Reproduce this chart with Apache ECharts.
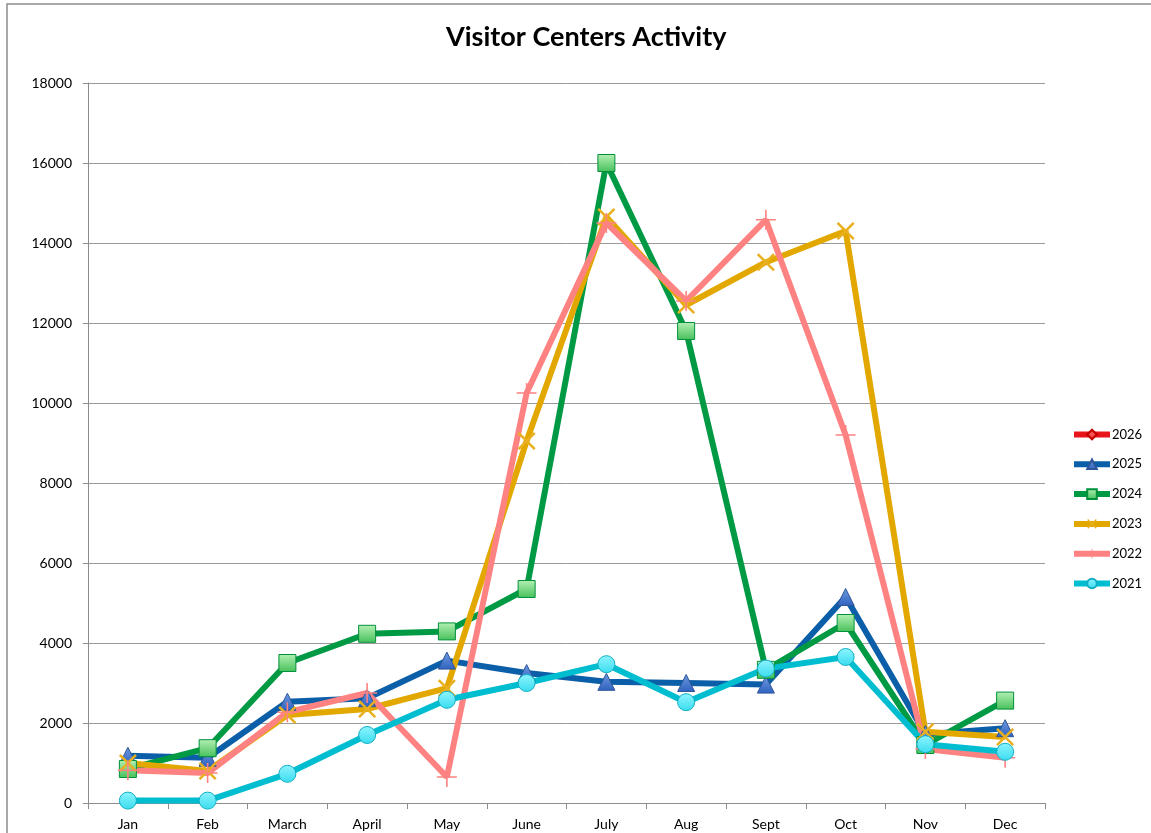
<!DOCTYPE html>
<html>
<head>
<meta charset="utf-8">
<title>Visitor Centers Activity</title>
<script src="https://cdn.jsdelivr.net/npm/echarts@6/dist/echarts.min.js"></script>
<style>
  html, body { margin: 0; padding: 0; background: #fff; }
  #main { width: 1151px; height: 833px; }
</style>
</head>
<body>
<div id="main"></div>
<script>
// months along the x axis
const months = ['Jan', 'Feb', 'March', 'April', 'May', 'June', 'July', 'Aug', 'Sept', 'Oct', 'Nov', 'Dec']

// visitors per month
const y2026 = []
const y2025 = [1180, 1130, 2530, 2620, 3560, 3250, 3030, 3000, 2960, 5150, 1720, 1870]
const y2024 = [850, 1370, 3500, 4230, 4290, 5350, 16000, 11800, 3330, 4500, 1450, 2560]
const y2023 = [1000, 800, 2200, 2350, 2870, 9050, 14650, 12450, 13520, 14300, 1780, 1650]
const y2022 = [820, 750, 2270, 2750, 650, 10250, 14500, 12550, 14580, 9200, 1350, 1130]
const y2021 = [60, 60, 730, 1700, 2580, 3000, 3470, 2520, 3360, 3650, 1470, 1280]

const yTicks = { min: 0, max: 18000, interval: 2000 }

const FONT = 'Lato, "Open Sans", sans-serif'

const crossPath = 'path://M0,1L1,0L10,9L9,10Z M9,0L10,1L1,10L0,9Z'
const plusPath = 'path://M0,4.6H10V5.4H0Z M4.6,0H5.4V10H4.6Z'

function grad(top, bottom) {
    return new echarts.graphic.LinearGradient(0, 0, 0, 1, [
        { offset: 0, color: top },
        { offset: 1, color: bottom }
    ])
}

function makeSeries(name, data, color, symbol, size, markerStyle) {
    return {
        name: name,
        type: 'line',
        data: data,
        symbol: symbol,
        symbolSize: size,
        showAllSymbol: true,
        lineStyle: { color: color, width: 6 },
        itemStyle: Object.assign({ color: color }, markerStyle),
        emphasis: { disabled: true }
    }
}

const myChart = echarts.init(document.getElementById('main'))
myChart.setOption({
    animation: false,
    color: ['#e8141c', '#0b5ea8', '#009a44', '#e2a800', '#ff8282', '#00bdd0'],
    title: {
        text: 'Visitor Centers Activity',
        left: 441,
        top: 19,
        textStyle: { fontFamily: FONT, fontSize: 27, fontWeight: 'bold', color: '#000' }
    },
    graphic: [{
        type: 'rect',
        shape: { x: 7, y: 4, width: 1200, height: 900 },
        style: { fill: 'none', stroke: '#8c8c8c', lineWidth: 1.5 },
        silent: true
    }],
    legend: {
        orient: 'vertical',
        left: 1066,
        top: 423,
        itemWidth: 36,
        itemHeight: 12,
        itemGap: 16.8,
        lineStyle: { width: 6 },
        textStyle: { fontFamily: FONT, fontSize: 13, color: '#000', padding: [0, 0, 0, -3] },
        data: ['2026', '2025', '2024', '2023', '2022', '2021']
    },
    grid: { left: 88, right: 106, top: 83, bottom: 30, containLabel: false },
    xAxis: {
        type: 'category',
        data: months,
        boundaryGap: true,
        axisLine: { lineStyle: { color: '#8c8c8c', width: 1 } },
        axisTick: { show: true, length: 6, lineStyle: { color: '#8c8c8c' } },
        axisLabel: { fontFamily: FONT, fontSize: 14, color: '#000', margin: 14 }
    },
    yAxis: {
        type: 'value',
        min: yTicks.min,
        max: yTicks.max,
        interval: yTicks.interval,
        axisLine: { show: true, lineStyle: { color: '#8c8c8c', width: 1 } },
        axisTick: { show: true, length: 5, lineStyle: { color: '#8c8c8c' } },
        axisLabel: {
            fontFamily: FONT, fontSize: 14, color: '#000', margin: 16,
            formatter: function (v) { return String(v) }
        },
        splitLine: { lineStyle: { color: '#9a9a9a', width: 1 } }
    },
    series: [
        makeSeries('2026', y2026, '#e8141c', 'diamond', 12,
            { color: '#ff5050', borderColor: '#c00000', borderWidth: 1 }),
        makeSeries('2025', y2025, '#0b5ea8', 'triangle', 17,
            { color: grad('#6f9be0', '#2f62c0'), borderColor: '#2f5597', borderWidth: 1 }),
        makeSeries('2024', y2024, '#009a44', 'rect', 17,
            { color: grad('#b4f0b4', '#46c05a'), borderColor: '#00913c', borderWidth: 1 }),
        makeSeries('2023', y2023, '#e2a800', crossPath, 18,
            { color: '#e8b020', borderWidth: 0 }),
        makeSeries('2022', y2022, '#ff8282', plusPath, 20,
            { color: '#ff8282', borderWidth: 0 }),
        makeSeries('2021', y2021, '#00bdd0', 'circle', 17,
            { color: grad('#8ff4ff', '#38dcef'), borderColor: '#10aec4', borderWidth: 1 })
    ]
})
</script>
</body>
</html>
